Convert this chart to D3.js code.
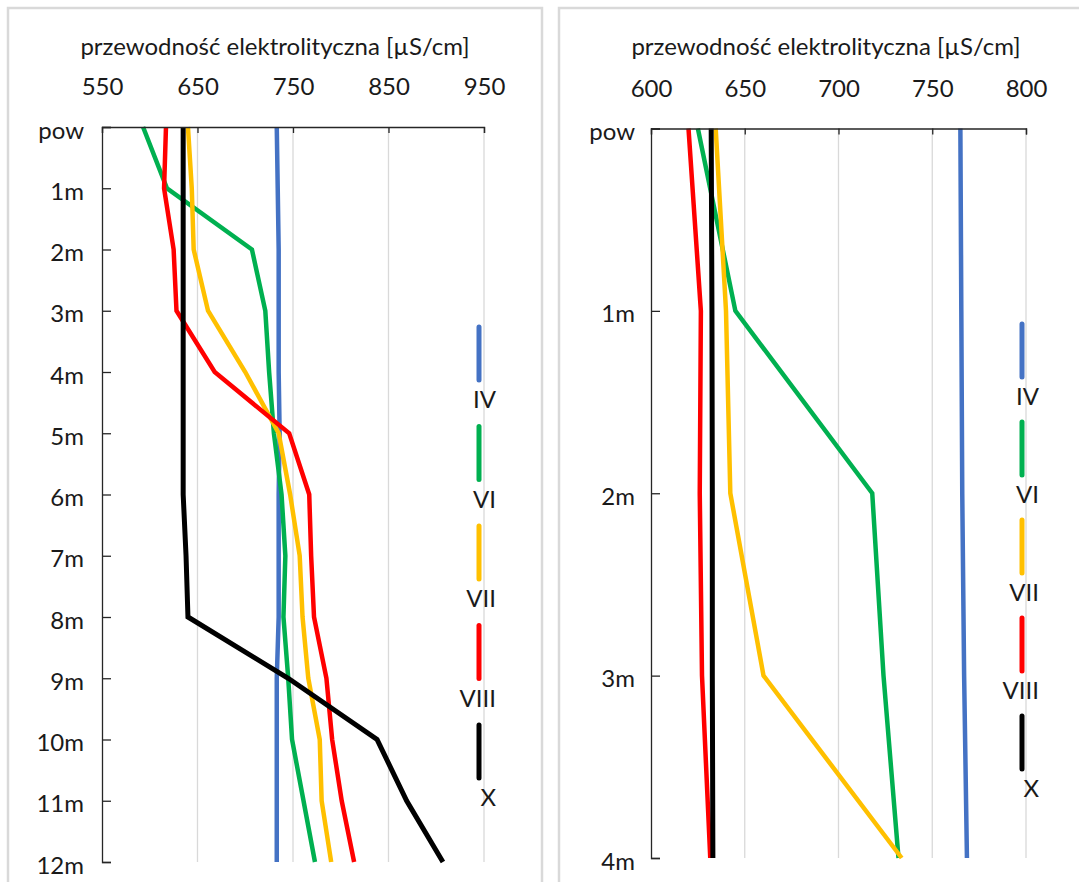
<!DOCTYPE html>
<html><head><meta charset="utf-8">
<script src="https://cdn.jsdelivr.net/npm/d3@7"></script>
<style>
html,body{margin:0;padding:0;background:#fff;}
svg{display:block;}
text{font-family:Lato,"Open Sans",sans-serif;fill:#1a1a1a;}
</style></head>
<body>
<svg id="chart" width="1079" height="882"></svg>
<script>
// ---- data ----
const seriesNames = ["IV", "VI", "VII", "VIII", "X"];
const seriesColors = ["#4472c4", "#00b050", "#ffc000", "#ff0000", "#000000"];
const xTitle = "przewodność elektrolityczna [µS/cm]";

const leftDepths = ["pow", "1m", "2m", "3m", "4m", "5m", "6m", "7m", "8m", "9m", "10m", "11m", "12m"];
const leftTicks = [550, 650, 750, 850, 950];
const leftIV   = [733, 734, 735, 735, 735, 736, 735, 735, 735, 733, 733, 733, 733];
const leftVI   = [593, 618, 707, 721, 725, 730, 738, 742, 740, 745, 749, 761, 773];
const leftVII  = [640, 644, 646, 661, 700, 735, 747, 757, 760, 766, 778, 780, 790];
const leftVIII = [617, 615, 625, 628, 668, 746, 767, 769, 772, 785, 791, 801, 814];
const leftX    = [635, 635, 635, 635, 635, 635, 635, 638, 640, 745, 838, 869, 907];

const rightDepths = ["pow", "1m", "2m", "3m", "4m"];
const rightTicks = [600, 650, 700, 750, 800];
const rightIV   = [765, 765.5, 766, 767, 768.5];
const rightVI   = [625, 645, 718, 724, 732];
const rightVII  = [634.5, 640, 642.3, 660, 733.7];
const rightVIII = [620, 626.6, 626, 627.2, 631.6];
const rightX    = [632.1, 632.5, 632.7, 632.7, 633];

// ---- layout ----
const svg = d3.select("#chart");
const FS = 24;

function panel(cfg) {
  const g = svg.append("g");
  g.append("rect").attr("x", cfg.box[0]).attr("y", cfg.box[1]).attr("width", cfg.box[2]).attr("height", cfg.box[3])
    .attr("fill", "none").attr("stroke", "#d9d9d9").attr("stroke-width", 2.5);

  const x = d3.scaleLinear().domain([cfg.ticks[0], cfg.ticks[cfg.ticks.length - 1]]).range([cfg.left, cfg.right]);
  const y = d3.scalePoint().domain(cfg.depths).range([cfg.top, cfg.bottom]).padding(0);

  g.selectAll("line.grid").data(cfg.ticks.slice(1)).enter().append("line")
    .attr("x1", d => x(d)).attr("x2", d => x(d)).attr("y1", cfg.top).attr("y2", cfg.bottom)
    .attr("stroke", "#d9d9d9").attr("stroke-width", 1.3);

  const line = d3.line().x(d => x(d.v)).y(d => y(d.k));
  cfg.series.forEach((vals, i) => {
    const pts = vals.map((v, j) => ({ v: v, k: cfg.depths[j] }));
    g.append("path").attr("d", line(pts)).attr("fill", "none")
      .attr("stroke", seriesColors[i]).attr("stroke-width", i === 4 ? 5 : 4.5)
      .attr("stroke-linejoin", "miter");
  });

  const ax = g.append("g").attr("transform", `translate(0,${cfg.top})`)
    .call(d3.axisTop(x).tickValues(cfg.ticks).tickSize(-6).tickPadding(32).tickFormat(d3.format("d")));
  ax.select(".domain").attr("stroke", "#262626").attr("stroke-width", 1.3);
  ax.selectAll(".tick line").attr("stroke", "#262626").attr("stroke-width", 1.3);
  ax.selectAll("text").attr("font-size", FS).attr("font-family", "Lato").attr("fill", "#1a1a1a");

  const ay = g.append("g").attr("transform", `translate(${cfg.left},0)`)
    .call(d3.axisLeft(y).tickSize(-9).tickPadding(cfg.yPad));
  ay.select(".domain").attr("stroke", "#262626").attr("stroke-width", 1.3);
  ay.selectAll(".tick line").attr("stroke", "#262626").attr("stroke-width", 1.3);
  ay.selectAll("text").attr("font-size", FS).attr("font-family", "Lato").attr("fill", "#1a1a1a")
    .attr("dy", "0.46em");

  g.append("text").attr("x", cfg.titleX).attr("y", 54.5).attr("text-anchor", "middle")
    .attr("font-size", FS).text(xTitle);

  seriesNames.forEach((name, i) => {
    const y0 = cfg.legTop + i * cfg.legStep;
    g.append("line").attr("x1", cfg.legX).attr("x2", cfg.legX).attr("y1", y0).attr("y2", y0 + 53)
      .attr("stroke", seriesColors[i]).attr("stroke-width", 5).attr("stroke-linecap", "round");
    g.append("text").attr("x", cfg.legX + 17).attr("y", y0 + 81).attr("text-anchor", "end")
      .attr("font-size", FS).text(name);
  });
}

panel({
  box: [8, 8, 534, 900], left: 102, right: 484, top: 127, bottom: 862,
  depths: leftDepths, ticks: leftTicks, titleX: 275, yPad: 18,
  series: [leftIV, leftVI, leftVII, leftVIII, leftX],
  legX: 479, legTop: 327, legStep: 99.5
});
panel({
  box: [559, 8, 540, 900], left: 651, right: 1026, top: 128.5, bottom: 858,
  depths: rightDepths, ticks: rightTicks, titleX: 826, yPad: 16,
  series: [rightIV, rightVI, rightVII, rightVIII, rightX],
  legX: 1022, legTop: 324, legStep: 98
});
</script>
</body></html>
